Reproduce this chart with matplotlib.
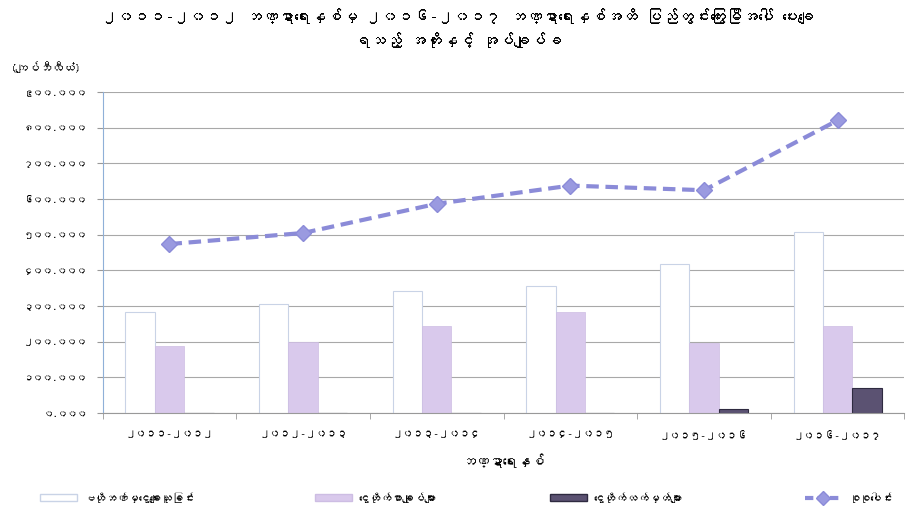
import numpy as np
import matplotlib
matplotlib.use("Agg")
import matplotlib.pyplot as plt
from matplotlib import font_manager
from matplotlib.ft2font import FT2Font
from matplotlib.lines import Line2D
from matplotlib.patches import Patch

# data (kyat billion)
years = ['၂၀၁၁-၂၀၁၂', '၂၀၁၂-၂၀၁၃', '၂၀၁၃-၂၀၁၄', '၂၀၁၄-၂၀၁၅', '၂၀၁၅-၂၀၁၆', '၂၀၁၆-၂၀၁၇']
central_bank = [283, 306, 343, 356, 418, 508]
bonds = [187, 198, 243, 282, 195, 245]
bills = [0, 0, 0, 0, 11, 69]
total = [474, 505, 587, 638, 625, 821]

series_names = ['ဗဟိုဘဏ်မှငွေချေးယူခြင်း', 'ငွေတိုက်စာချုပ်များ', 'ငွေတိုက်လက်မှတ်များ', 'စုစုပေါင်း']
ytick_vals = [0, 100, 200, 300, 400, 500, 600, 700, 800, 900]
ytick_labels = ['၀.၀၀၀', '၁၀၀.၀၀၀', '၂၀၀.၀၀၀', '၃၀၀.၀၀၀', '၄၀၀.၀၀၀',
                '၅၀၀.၀၀၀', '၆၀၀.၀၀၀', '၇၀၀.၀၀၀', '၈၀၀.၀၀၀', '၉၀၀.၀၀၀']

title = ('၂၀၁၁-၂၀၁၂ ဘဏ္ဍာရေးနှစ်မှ ၂၀၁၆-၂၀၁၇ ဘဏ္ဍာရေးနှစ်အထိ ပြည်တွင်းကြွေးမြီအပေါ် ပေးချေ\n'
         'ရသည့် အတိုးနှင့် အုပ်ချုပ်ခ')
unit = '(ကျပ်ဘီလီယံ)'
xlabel = 'ဘဏ္ဍာရေးနှစ်'


# pick any installed font that has Myanmar glyphs, else fall back
def myanmar_font():
    for f in font_manager.fontManager.ttflist:
        try:
            if 0x1000 in FT2Font(f.fname).get_charmap():
                return f.name
        except Exception:
            pass
    return None

mm = myanmar_font()
families = [mm, 'DejaVu Sans'] if mm else ['DejaVu Sans']
plt.rcParams['font.family'] = families

fig = plt.figure(figsize=(9.07, 5.18), dpi=100)
ax = fig.add_axes([0.1132, 0.2027, 0.884, 0.6193])

x = np.arange(len(years))
w = 0.22
ax.bar(x - w, central_bank, w, color='white', edgecolor='#c9d3e6', linewidth=0.8, zorder=2)
ax.bar(x, bonds, w, color='#d9c9ec', edgecolor='#cdbde3', linewidth=0.5, zorder=2)
ax.bar(x + w, bills, w, color='#5b5272', edgecolor='#2e2a40', linewidth=0.8, zorder=2)
ax.plot(x, total, color='#8b8bd8', linestyle=(0, (3, 1.6)), linewidth=3,
        marker='D', markersize=8, markerfacecolor='#9a9ae0', markeredgecolor='#8b8bd8', zorder=3)

ax.set_xlim(-0.5, len(years) - 0.5)
ax.set_ylim(0, 900)
ax.set_yticks(ytick_vals)
ax.set_yticklabels(ytick_labels, fontsize=7)
ax.set_xticks(x)
ax.set_xticklabels(years, fontsize=7.5)
ax.set_xticks(np.arange(len(years) + 1) - 0.5, minor=True)
ax.tick_params(axis='x', which='major', length=0, pad=12)
ax.tick_params(axis='x', which='minor', length=4, color='#999999')
ax.tick_params(axis='y', length=4, color='#999999', pad=7)
ax.grid(axis='y', color='#a8a8a8', linewidth=0.8, zorder=0)
for s in ['top', 'right']:
    ax.spines[s].set_visible(False)
ax.spines['left'].set_color('#8fb0d8')
ax.spines['left'].set_linestyle((0, (1, 1)))
ax.spines['bottom'].set_color('#999999')
ax.set_xlabel(xlabel, fontsize=10, fontweight='bold', labelpad=10)

fig.text(0.505, 0.985, title, ha='center', va='top', fontsize=11.5, linespacing=1.6)
fig.text(0.012, 0.86, unit, ha='left', va='bottom', fontsize=8.5, fontweight='bold')

handles = [Patch(facecolor='white', edgecolor='#c9d3e6'),
           Patch(facecolor='#d9c9ec', edgecolor='#cdbde3'),
           Patch(facecolor='#5b5272', edgecolor='#2e2a40'),
           Line2D([], [], color='#8b8bd8', linestyle=(0, (2, 1)), linewidth=3,
                  marker='D', markersize=7, markerfacecolor='#9a9ae0')]
legend_x = [40, 315, 550, 805]
for h, name, lx in zip(handles, series_names, legend_x):
    leg = fig.legend([h], [name], loc='center left', bbox_to_anchor=(lx / 907, 0.04),
                     frameon=False, fontsize=8, handlelength=3.3, handleheight=0.6,
                     handletextpad=0.6, borderpad=0, borderaxespad=0)

fig.savefig('out.png', dpi=100)
